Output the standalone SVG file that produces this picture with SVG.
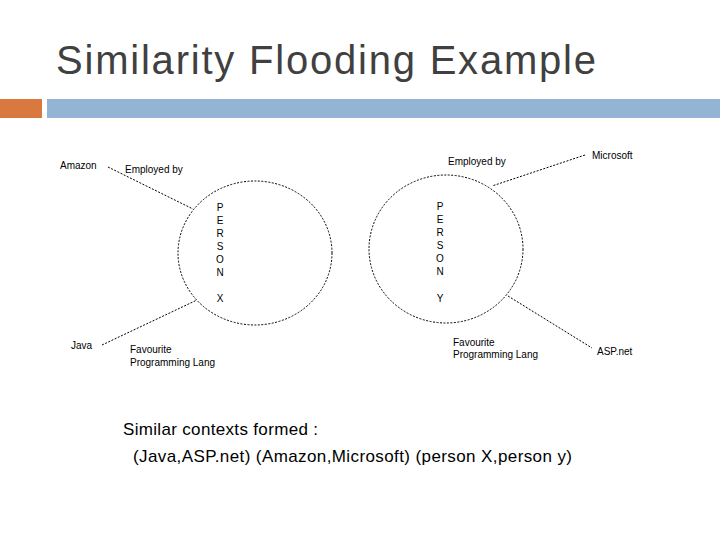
<svg xmlns="http://www.w3.org/2000/svg" width="720" height="540" viewBox="0 0 720 540">
<style>
.t{font-family:"Liberation Sans",Arial,sans-serif;fill:#000}
.s{font-size:10px}
.c{fill:none;stroke:#000;stroke-width:1;stroke-dasharray:2,1.5}
</style>
<rect width="720" height="540" fill="#fff"/>
<text x="56" y="74" font-family="Liberation Sans,Arial,sans-serif" font-size="40" fill="#404040" textLength="540">Similarity Flooding Example</text>
<rect x="0" y="99" width="42" height="19" fill="#D9783F"/>
<rect x="47" y="99" width="673" height="19" fill="#93B4D5"/>
<g id="connectors">
<line class="c" x1="108" y1="167" x2="193" y2="209"/>
<line class="c" x1="102" y1="345" x2="197" y2="300"/>
<line class="c" x1="585" y1="155" x2="492" y2="186"/>
<line class="c" x1="508" y1="296" x2="592" y2="348"/>
</g>
<g id="personX">
<ellipse class="c" cx="255" cy="253" rx="77" ry="72"/>
<text class="t s" text-anchor="middle"><tspan x="220" y="211">P</tspan><tspan x="220" y="224">E</tspan><tspan x="220" y="237">R</tspan><tspan x="220" y="250">S</tspan><tspan x="220" y="263">O</tspan><tspan x="220" y="276">N</tspan><tspan x="220" y="302">X</tspan></text>
</g>
<g id="personY">
<ellipse class="c" cx="446" cy="249" rx="77" ry="74"/>
<text class="t s" text-anchor="middle"><tspan x="440" y="210">P</tspan><tspan x="440" y="223">E</tspan><tspan x="440" y="236">R</tspan><tspan x="440" y="249">S</tspan><tspan x="440" y="262">O</tspan><tspan x="440" y="275">N</tspan><tspan x="440" y="302">Y</tspan></text>
</g>
<g id="labels">
<text class="t s" x="60" y="169">Amazon</text>
<text class="t s" x="125" y="173">Employed by</text>
<text class="t s" x="71" y="349">Java</text>
<text class="t s" x="130" y="353">Favourite</text>
<text class="t s" x="130" y="366">Programming Lang</text>
<text class="t s" x="448" y="165">Employed by</text>
<text class="t s" x="592" y="159">Microsoft</text>
<text class="t s" x="453" y="346">Favourite</text>
<text class="t s" x="453" y="358">Programming Lang</text>
<text class="t s" x="597" y="355">ASP.net</text>
</g>
<g id="summary">
<text class="t" x="123" y="435" font-size="17" textLength="195">Similar contexts formed :</text>
<text class="t" x="133" y="462" font-size="17" textLength="439">(Java,ASP.net)  (Amazon,Microsoft)  (person X,person y)</text>
</g>
</svg>
